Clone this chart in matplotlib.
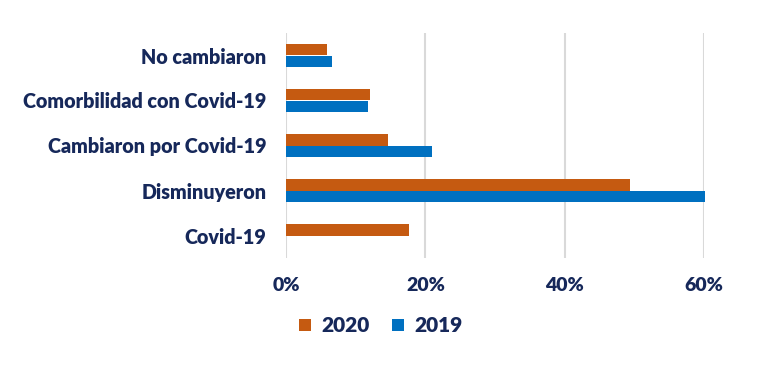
import matplotlib
matplotlib.use("Agg")
import matplotlib.pyplot as plt
import numpy as np
from matplotlib.ticker import FuncFormatter

categories = ["No cambiaron", "Comorbilidad con Covid-19", "Cambiaron por Covid-19",
              "Disminuyeron", "Covid-19"]
values_2020 = [0.059, 0.121, 0.147, 0.494, 0.176]
values_2019 = [0.066, 0.118, 0.209, 0.601, 0.0]
xticks = [0.0, 0.2, 0.4, 0.6]

c2020 = "#C55A11"
c2019 = "#0070C0"
txt = "#16285A"
plt.rcParams['font.family'] = ['Lato', 'DejaVu Sans']
W = 'heavy'

fig = plt.figure(figsize=(7.59, 3.66), dpi=100)
ax = fig.add_axes([286/759, 1-258/366, (704-286)/759, (258-33)/366])

y = np.arange(len(categories))
h = 0.255
ax.barh(y - h/2, values_2020, height=h, color=c2020, label="2020", clip_on=False, zorder=3)
ax.barh(y + h/2, values_2019, height=h, color=c2019, label="2019", clip_on=False, zorder=3)

ax.set_ylim(len(categories) - 0.5, -0.5)
ax.set_xlim(0, 0.6)
ax.set_yticks(y)
ax.set_yticklabels(categories, fontsize=14.2, fontweight=W, color=txt)
ax.set_xticks(xticks)
ax.xaxis.set_major_formatter(FuncFormatter(lambda v, p: f"{v*100:.0f}%"))
for lab in ax.get_xticklabels():
    lab.set_fontsize(14); lab.set_fontweight(W); lab.set_color(txt)
ax.tick_params(axis='both', length=0)
ax.tick_params(axis='y', pad=14)
ax.tick_params(axis='x', pad=14)
ax.grid(axis='x', color='#D9D9D9', linewidth=1.5, zorder=0)
for s in ax.spines.values():
    s.set_visible(False)

leg = fig.legend(loc='center', bbox_to_anchor=(381/759, 1-326/366), ncol=2, frameon=False,
                 prop={'size': 15, 'weight': W}, handlelength=0.55, handleheight=0.55,
                 handletextpad=0.5, columnspacing=1.1)
for t in leg.get_texts():
    t.set_color(txt)

fig.savefig("out.png", dpi=100)
